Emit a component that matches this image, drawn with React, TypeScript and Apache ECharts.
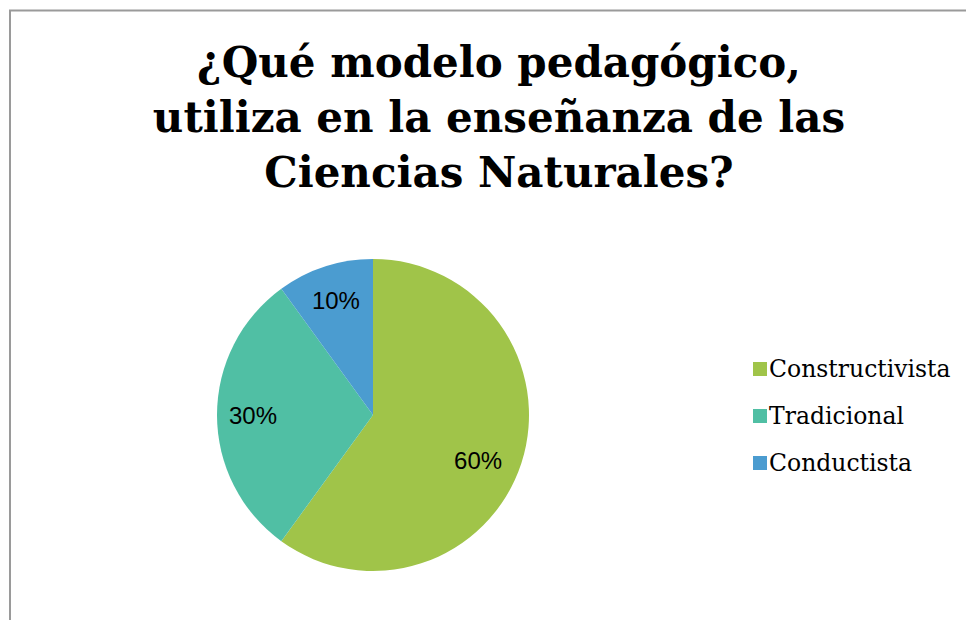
import React, { useEffect, useRef } from "react";
import * as echarts from "echarts";

const titleLines = ["¿Qué modelo pedagógico,", "utiliza en la enseñanza de las", "Ciencias Naturales?"];
const categories = ["Constructivista", "Tradicional", "Conductista"];
const values = [60, 30, 10];
const colors = ["#A0C449", "#50BFA4", "#4B9CD0"];

export default function App() {
  const ref = useRef<HTMLDivElement>(null);
  useEffect(() => {
    if (!ref.current) return;
    const chart = echarts.init(ref.current, null, { renderer: "svg" });
    const data = categories.map((name, i) => ({ name, value: values[i] }));
    const labelData = categories.map((name, i) => ({
      name,
      value: values[i],
      label: i === 0 ? { offset: [-9, 8] } : {},
    }));
    chart.setOption({
      animation: false,
      backgroundColor: "#ffffff",
      color: colors,
      title: {
        text: titleLines.join("\n"),
        left: 494,
        top: 30,
        textAlign: "center",
        textStyle: {
          fontFamily: "DejaVu Serif",
          fontWeight: "bold",
          fontSize: 42,
          lineHeight: 55,
          color: "#000",
        },
      },
      legend: {
        orient: "vertical",
        left: 748,
        top: 352,
        itemWidth: 14,
        itemHeight: 14,
        itemGap: 23,
        icon: "rect",
        data: categories,
        textStyle: { fontFamily: "DejaVu Serif", fontSize: 23.5, color: "#000", padding: [0, 0, 0, -3] },
      },
      graphic: [
        {
          type: "rect",
          shape: { x: 10, y: 10.5, width: 1000, height: 700 },
          style: { fill: "none", stroke: "#9a9a9a", lineWidth: 2 },
          silent: true,
        },
      ],
      series: [
        {
          type: "pie",
          center: [373, 415],
          radius: [0, 156],
          startAngle: 90,
          clockwise: true,
          data,
          label: { show: false },
          labelLine: { show: false },
          itemStyle: { borderWidth: 0 },
          emphasis: { disabled: true },
        },
        {
          type: "pie",
          center: [373, 415],
          radius: [78, 156],
          startAngle: 90,
          clockwise: true,
          data: labelData,
          silent: true,
          itemStyle: { color: "rgba(0,0,0,0)", borderWidth: 0 },
          label: {
            show: true,
            position: "inside",
            formatter: "{d}%",
            fontFamily: "Liberation Sans",
            fontSize: 24,
            color: "#000",
          },
          labelLine: { show: false },
          emphasis: { disabled: true },
        },
      ],
    });
    return () => chart.dispose();
  }, []);
  return <div ref={ref} style={{ position: "fixed", left: 0, top: 0, width: 966, height: 620 }} />;
}
